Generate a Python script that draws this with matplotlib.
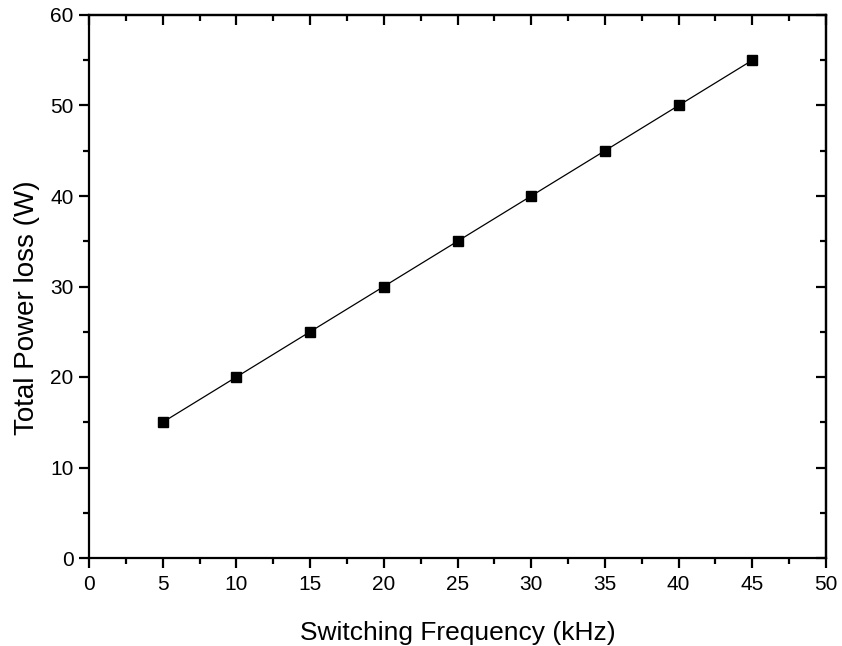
import matplotlib
matplotlib.use("Agg")
import matplotlib.pyplot as plt
from matplotlib.ticker import MultipleLocator

freq_khz = [5, 10, 15, 20, 25, 30, 35, 40, 45]
power_loss_w = [15, 20, 25, 30, 35, 40, 45, 50, 55]

plt.rcParams['font.family'] = ['Liberation Sans', 'DejaVu Sans']

fig = plt.figure(figsize=(8.42, 6.46), dpi=100)
ax = fig.add_axes([89/842, 1-558/646, (826-89)/842, (558-15)/646])

ax.plot(freq_khz, power_loss_w, color='black', lw=0.9, marker='s', ms=7.5,
        mfc='black', mec='black')

ax.set_xlim(0, 50)
ax.set_ylim(0, 60)
ax.xaxis.set_major_locator(MultipleLocator(5))
ax.xaxis.set_minor_locator(MultipleLocator(2.5))
ax.yaxis.set_major_locator(MultipleLocator(10))
ax.yaxis.set_minor_locator(MultipleLocator(5))

for s in ax.spines.values():
    s.set_linewidth(1.6)

ax.tick_params(which='both', direction='out', top=False, right=False, labelsize=15, width=1.6)
ax.tick_params(axis='x', pad=5)
ax.tick_params(axis='y', pad=4)
ax.tick_params(which='major', length=7)
ax.tick_params(which='minor', length=4)

ax2 = ax.secondary_xaxis('top')
ax2.xaxis.set_major_locator(MultipleLocator(5))
ax2.xaxis.set_minor_locator(MultipleLocator(2.5))
ax2.tick_params(which='both', direction='in', labeltop=False, width=1.6)
ax2.tick_params(which='major', length=7)
ax2.tick_params(which='minor', length=4)
ax3 = ax.secondary_yaxis('right')
ax3.yaxis.set_major_locator(MultipleLocator(10))
ax3.yaxis.set_minor_locator(MultipleLocator(5))
ax3.tick_params(which='both', direction='in', labelright=False, width=1.6)
ax3.tick_params(which='major', length=7)
ax3.tick_params(which='minor', length=4)
for a in (ax2, ax3):
    for s in a.spines.values():
        s.set_linewidth(1.6)

ax.set_xlabel('Switching Frequency (kHz)', fontsize=19)
ax.set_ylabel('Total Power loss (W)', fontsize=20)
ax.xaxis.set_label_coords(0.5, -75/543, transform=ax.transAxes)
ax.yaxis.set_label_coords(-62/737, (558-308)/543, transform=ax.transAxes)
ax.xaxis.label.set_va('center')
ax.yaxis.label.set_va('center')

fig.savefig('out.png', dpi=100)
